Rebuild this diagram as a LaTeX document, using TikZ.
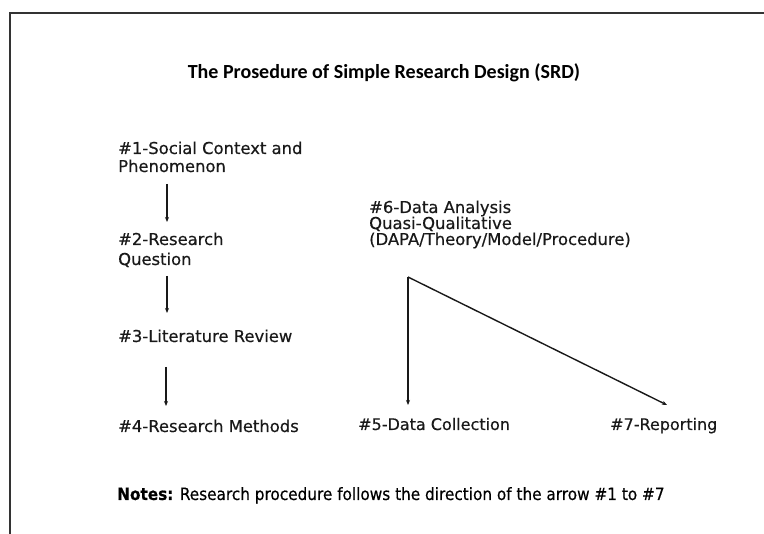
\documentclass[tikz,border=0pt]{standalone}
\usepackage{fontspec}
\setmainfont{DejaVu Sans}[FakeBold=0.4]
\newfontfamily\titlefont{Carlito}
\newfontfamily\notefont{DejaVu Sans Condensed}[FakeBold=0.4]
\usetikzlibrary{arrows.meta}
\begin{document}
\begin{tikzpicture}[x=1pt,y=-1pt,
  lbl/.style={anchor=base west,inner sep=0pt,text=black!90,font=\fontsize{16.4}{18}\selectfont},
  lblr/.style={lbl,font=\fontsize{16}{18}\selectfont},
  arr/.style={-{Stealth[length=5pt,width=4pt]},line width=1.4pt,black!90}]
\useasboundingbox (0,0) rectangle (764,534);
\fill[white] (0,0) rectangle (764,534);
\draw[line width=2pt,black!80] (10,540) -- (10,13) -- (770,13);
\node[anchor=base,inner sep=0pt,font=\titlefont\bfseries\fontsize{20}{22}\selectfont] (title) at (384,79) {The Prosedure of Simple Research Design (SRD)};
\node[lbl] (n1a) at (118,154) {\#1-Social Context and};
\node[lbl] (n1b) at (118,172) {Phenomenon};
\node[lbl] (n2a) at (118,245) {\#2-Research};
\node[lbl] (n2b) at (118,265) {Question};
\node[lbl] (n3) at (118,342) {\#3-Literature Review};
\node[lbl] (n4) at (118,432) {\#4-Research Methods};
\node[lbl] (n6a) at (369,213) {\#6-Data Analysis};
\node[lbl] (n6b) at (369,229) {Quasi-Qualitative};
\node[lbl] (n6c) at (369,245) {(DAPA/Theory/Model/Procedure)};
\node[lblr] (n5) at (358,430) {\#5-Data Collection};
\node[lblr] (n7) at (610,430) {\#7-Reporting};
\node[anchor=base west,inner sep=0pt,font=\notefont\fontsize{17}{19}\selectfont] (notes) at (117,500) {\textbf{Notes:} Research procedure follows the direction of the arrow \#1 to \#7};
\coordinate (a1s) at (167,184); \coordinate (a1e) at (167,222);
\coordinate (a2s) at (167,276); \coordinate (a2e) at (167,313);
\coordinate (a3s) at (166,367); \coordinate (a3e) at (166,406);
\coordinate (c6) at (408,277);
\coordinate (c5) at (408,405);
\coordinate (c7) at (667,405);
\draw[arr] (a1s) -- (a1e);
\draw[arr] (a2s) -- (a2e);
\draw[arr] (a3s) -- (a3e);
\draw[arr] (c6) -- (c5);
\draw[arr] (c6) -- (c7);
\end{tikzpicture}
\end{document}
